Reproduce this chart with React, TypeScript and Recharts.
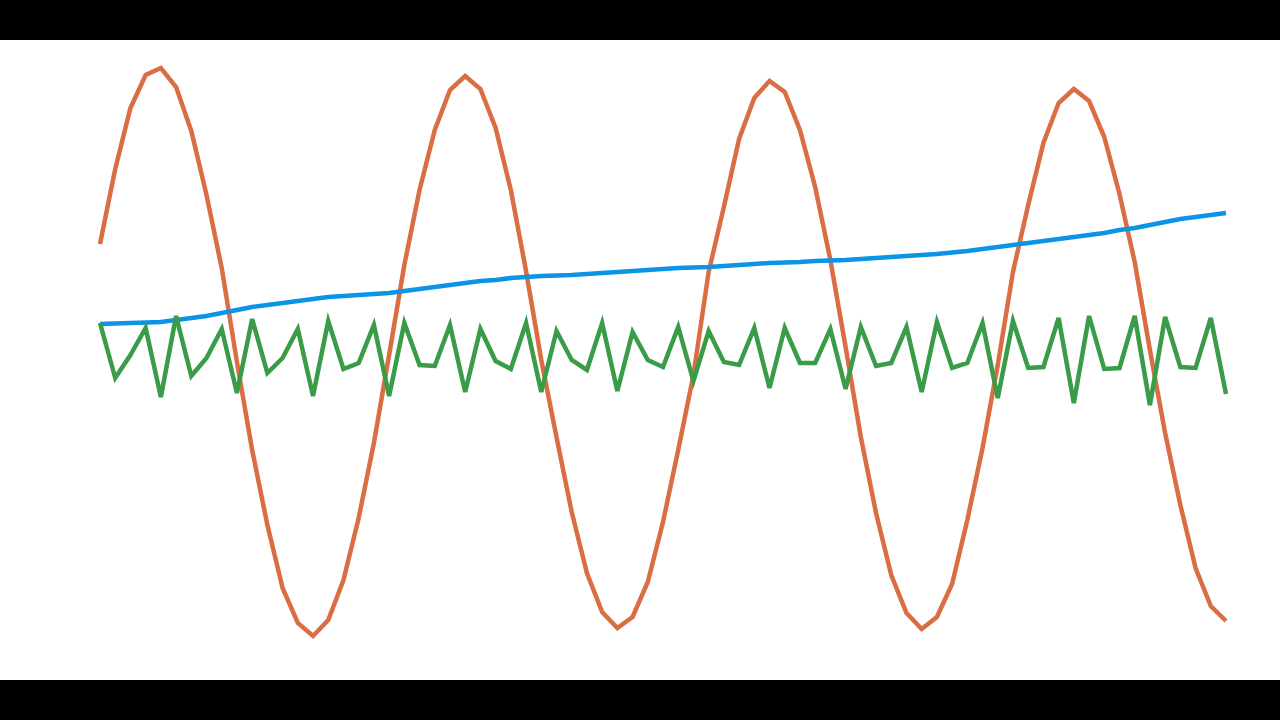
import { Line, LineChart, XAxis, YAxis } from 'recharts';

// 75 samples
const steps = Array.from({ length: 75 }, (_, i) => i);

const wave = [
  4.36, 5.11, 5.72, 6.05, 6.12, 5.93, 5.49, 4.85, 4.12, 3.18, 2.3, 1.55, 0.92, 0.57, 0.44, 0.6, 1.0, 1.62, 2.37, 3.25,
  4.15, 4.9, 5.5, 5.9, 6.04, 5.91, 5.52, 4.9, 4.09, 3.2, 2.43, 1.68, 1.07, 0.68, 0.52, 0.63, 0.98, 1.58, 2.3, 3.05,
  4.08, 4.73, 5.41, 5.82, 5.99, 5.88, 5.5, 4.93, 4.2, 3.33, 2.43, 1.67, 1.05, 0.67, 0.51, 0.63, 0.96, 1.6, 2.32, 3.15,
  4.08, 4.75, 5.37, 5.77, 5.91, 5.79, 5.43, 4.86, 4.18, 3.3, 2.47, 1.75, 1.12, 0.74, 0.59,
];

const trend = [
  3.56, 3.565, 3.57, 3.575, 3.58, 3.6, 3.62, 3.64, 3.67, 3.7, 3.73, 3.75, 3.77, 3.79, 3.81, 3.83, 3.84, 3.85, 3.86, 3.87,
  3.89, 3.91, 3.93, 3.95, 3.97, 3.99, 4.0, 4.02, 4.03, 4.04, 4.045, 4.05, 4.06, 4.07, 4.08, 4.09, 4.1, 4.11, 4.12, 4.125,
  4.13, 4.14, 4.15, 4.16, 4.17, 4.175, 4.18, 4.19, 4.195, 4.2, 4.21, 4.22, 4.23, 4.24, 4.25, 4.26, 4.275, 4.29, 4.31, 4.33,
  4.35, 4.37, 4.39, 4.41, 4.43, 4.45, 4.47, 4.5, 4.52, 4.55, 4.58, 4.61, 4.63, 4.65, 4.67,
];

const noise = [
  3.57, 3.02, 3.25, 3.52, 2.83, 3.64, 3.04, 3.22, 3.51, 2.87, 3.61, 3.07, 3.22, 3.51, 2.84, 3.59, 3.11, 3.17, 3.55, 2.84,
  3.57, 3.15, 3.14, 3.55, 2.88, 3.51, 3.19, 3.11, 3.57, 2.88, 3.49, 3.2, 3.1, 3.57, 2.89, 3.48, 3.2, 3.13, 3.53, 2.99,
  3.49, 3.18, 3.15, 3.52, 2.92, 3.52, 3.17, 3.17, 3.51, 2.91, 3.53, 3.14, 3.17, 3.53, 2.88, 3.58, 3.12, 3.17, 3.57, 2.82,
  3.59, 3.12, 3.13, 3.62, 2.77, 3.64, 3.11, 3.12, 3.64, 2.75, 3.63, 3.13, 3.12, 3.62, 2.86,
];

const data = steps.map((step, i) => ({
  step,
  wave: wave[i],
  trend: trend[i],
  noise: noise[i],
}));

export default function App() {
  return (
    <div style={{ position: 'fixed', top: 0, left: 0, width: 1280, height: 720, background: '#000' }}>
      <div style={{ position: 'absolute', top: 40, left: 0, width: 1280, height: 640, background: '#fff' }}>
        <LineChart width={1280} height={640} data={data} margin={{ top: 0, right: 54, bottom: 0, left: 100 }}>
          <XAxis dataKey="step" hide />
          <YAxis hide type="number" domain={[0, 6.4]} />
          <Line
            type="linear"
            dataKey="wave"
            stroke="#db6d45"
            strokeWidth={4.5}
            dot={false}
            isAnimationActive={false}
          />
          <Line
            type="linear"
            dataKey="trend"
            stroke="#0b93e6"
            strokeWidth={4.5}
            dot={false}
            isAnimationActive={false}
          />
          <Line
            type="linear"
            dataKey="noise"
            stroke="#3a9c48"
            strokeWidth={4.5}
            dot={false}
            isAnimationActive={false}
          />
        </LineChart>
      </div>
    </div>
  );
}
